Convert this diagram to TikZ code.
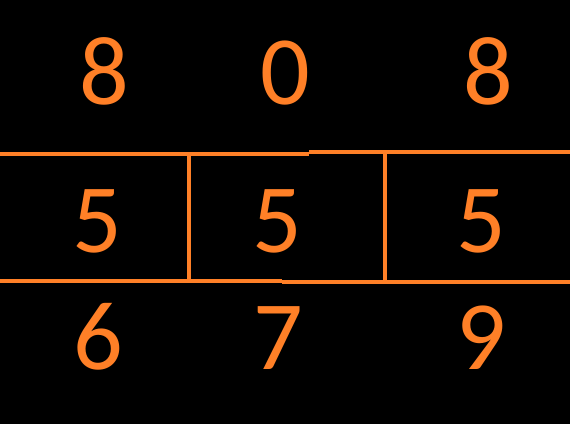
\documentclass[tikz,border=0pt]{standalone}
\usepackage{fontspec}
\setmainfont{Carlito}
\definecolor{digitorange}{RGB}{255,128,39}

\begin{document}
\begin{tikzpicture}[x=1pt, y=-1pt, line cap=butt,
    digit/.style={anchor=base, inner sep=0pt, text=digitorange, font=\fontsize{98}{98}\selectfont},
    rule/.style={draw=digitorange, line width=4pt}]
  \fill[black] (0, 0) rectangle (570, 424);
  \useasboundingbox (0, 0) rectangle (570, 424);
  % top row
  \node[digit] (t1) at (104.5, 104) {8};
  \node[digit] (t2) at (285, 104) {0};
  \node[digit] (t3) at (488, 104) {8};
  % middle row
  \node[digit] (m1) at (97, 252) {5};
  \node[digit] (m2) at (277.5, 252) {5};
  \node[digit] (m3) at (481, 252) {5};
  % bottom row
  \node[digit] (b1) at (98, 369) {6};
  \node[digit] (b2) at (278.5, 369) {7};
  \node[digit] (b3) at (481.5, 369) {9};
  % box
  \draw[rule] (0, 153.5) -- (309, 153.5);
  \draw[rule] (309, 152.3) -- (570, 152.3);
  \draw[rule] (0, 281.3) -- (282, 281.3);
  \draw[rule] (282, 282.3) -- (570, 282.3);
  \draw[rule] (188.5, 153.5) -- (188.5, 281.3);
  \draw[rule] (384.5, 152.3) -- (384.5, 282.3);
\end{tikzpicture}
\end{document}
